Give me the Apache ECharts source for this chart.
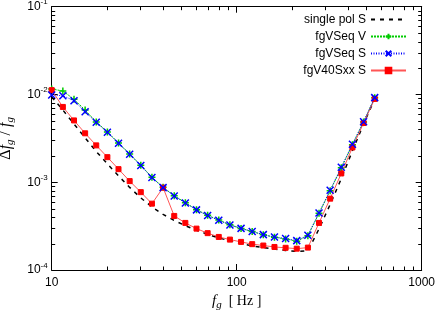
<!DOCTYPE html>
<html>
<head>
<meta charset="utf-8">
<script src="https://cdn.jsdelivr.net/npm/echarts@6/dist/echarts.min.js"></script>
<style>html,body{margin:0;padding:0;background:#fff}#c{width:436px;height:311px}</style>
</head>
<body>
<div id="c"></div>
<script>
// frequencies (Hz)
var freq = [10, 11.49, 13.20, 15.16, 17.41, 20, 22.97, 26.39, 30.31, 34.82, 40, 45.95, 52.78, 60.63, 69.64, 80, 91.90, 105.56, 121.26, 139.29, 160, 183.79, 211.12, 242.51, 278.58, 320, 367.58, 422.24, 485.03, 557.15];
var singlePolS = [0.00938, 0.00665, 0.00461, 0.00320, 0.00224, 0.00162, 0.00118, 0.000873, 0.000663, 0.000524, 0.000430, 0.000367, 0.000320, 0.000283, 0.000255, 0.000232, 0.000215, 0.000200, 0.000188, 0.000180, 0.000173, 0.000167, 0.000163, 0.000165, 0.000294, 0.000558, 0.00110, 0.00228, 0.00461, 0.00890];
var fgVSeqV = [0.01155, 0.01096, 0.00881, 0.00665, 0.00487, 0.00374, 0.00280, 0.00210, 0.00156, 0.00114, 0.000875, 0.000703, 0.000585, 0.000487, 0.000420, 0.000371, 0.000327, 0.000298, 0.000274, 0.000252, 0.000236, 0.000226, 0.000213, 0.000246, 0.000442, 0.000802, 0.00146, 0.00268, 0.00486, 0.00915];
var fgVSeqS = [0.00986, 0.00968, 0.00849, 0.00637, 0.00482, 0.00371, 0.00278, 0.00208, 0.00155, 0.00113, 0.000868, 0.000698, 0.000581, 0.000484, 0.000417, 0.000369, 0.000326, 0.000298, 0.000275, 0.000253, 0.000238, 0.000228, 0.000216, 0.000249, 0.000447, 0.000810, 0.00148, 0.00271, 0.00490, 0.00920];
var fgV40SxxS = [0.01120, 0.00721, 0.00506, 0.00361, 0.00263, 0.00193, 0.00141, 0.00103, 0.000771, 0.000570, 0.000868, 0.000413, 0.000344, 0.000296, 0.000263, 0.000238, 0.000222, 0.000209, 0.000197, 0.000190, 0.000183, 0.000179, 0.000175, 0.000180, 0.000344, 0.000650, 0.00126, 0.00249, 0.00473, 0.00890];
var seriesNames = ['single pol S', 'fgVSeq V', 'fgVSeq S', 'fgV40Sxx S'];
var xMinorTicks = [20, 30, 40, 50, 60, 70, 80, 90, 200, 300, 400, 500, 600, 700, 800, 900];
var yMinorTicks = [0.0002, 0.0003, 0.0004, 0.0005, 0.0006, 0.0007, 0.0008, 0.0009, 0.002, 0.003, 0.004, 0.005, 0.006, 0.007, 0.008, 0.009, 0.02, 0.03, 0.04, 0.05, 0.06, 0.07, 0.08, 0.09];

function pairs(ys) { return freq.map(function (f, i) { return [f, ys[i]]; }); }

var chart = echarts.init(document.getElementById('c'), null, {renderer: 'canvas'});
var sans = 'Liberation Sans';
var serif = 'Liberation Serif';
var XMIN = 10, XMAX = 1000, YMIN = 1e-4, YMAX = 1e-1;

var crossPath = 'path://M0,0L10,10M10,0L0,10';
var plusPath = 'path://M5,0L5,10M0,5L10,5';

var option = {
  animation: false,
  backgroundColor: '#fff',
  grid: {left: 51.7, right: 14.3, top: 6.7, bottom: 41, containLabel: false, outerBoundsMode: 'none'},
  legend: {
    orient: 'vertical', right: 29, top: 13.5, align: 'right',
    itemWidth: 35, itemHeight: 7, itemGap: 5, padding: 0,
    data: [{name: seriesNames[0], itemStyle: {opacity: 0}}, seriesNames[1], seriesNames[2], seriesNames[3]],
    textStyle: {fontFamily: sans, fontSize: 12, color: '#000', padding: [0, 0, 0, 0]}
  },
  xAxis: [{
    type: 'log', logBase: 10, min: XMIN, max: XMAX, position: 'bottom',
    axisLine: {lineStyle: {color: '#000', width: 1}},
    axisTick: {inside: true, length: 6, lineStyle: {color: '#000'}},
    axisLabel: {fontFamily: sans, fontSize: 12, color: '#000', margin: 7, formatter: function (v) { return String(Math.round(v)); }},
    splitLine: {show: false},
    name: '{f|f}{s|g}{t|  [ Hz ]}', nameLocation: 'middle', nameGap: 21,
    nameTextStyle: {rich: {
      f: {fontFamily: serif, fontStyle: 'italic', fontSize: 15, color: '#000'},
      s: {fontFamily: serif, fontStyle: 'italic', fontSize: 11, color: '#000', padding: [8, 0, 0, 0]},
      t: {fontFamily: serif, fontSize: 14, color: '#000'}
    }}
  }, {
    type: 'log', logBase: 10, min: XMIN, max: XMAX, position: 'top',
    axisLine: {lineStyle: {color: '#000', width: 1}},
    axisTick: {inside: true, length: 6, lineStyle: {color: '#000'}},
    axisLabel: {show: false}, splitLine: {show: false}
  }],
  yAxis: [{
    type: 'log', logBase: 10, min: YMIN, max: YMAX, position: 'left',
    axisLine: {lineStyle: {color: '#000', width: 1}},
    axisTick: {inside: true, length: 6, lineStyle: {color: '#000'}},
    axisLabel: {
      margin: 4,
      formatter: function (v) { return '{b|10}{s|' + Math.round(Math.log10(v)) + '}'; },
      rich: {
        b: {fontFamily: sans, fontSize: 12, color: '#000'},
        s: {fontFamily: sans, fontSize: 8, color: '#000', padding: [0, 0, 9, 0]}
      }
    },
    splitLine: {show: false},
    name: '{d|Δ}{f|f}{s|g}{d| / }{f|f}{s|g}', nameLocation: 'middle', nameGap: 36, nameRotate: 90,
    nameTextStyle: {rich: {
      d: {fontFamily: serif, fontSize: 16, color: '#000'},
      f: {fontFamily: serif, fontStyle: 'italic', fontSize: 16, color: '#000'},
      s: {fontFamily: serif, fontStyle: 'italic', fontSize: 11, color: '#000', padding: [8, 0, 0, 0]}
    }}
  }, {
    type: 'log', logBase: 10, min: YMIN, max: YMAX, position: 'right',
    axisLine: {lineStyle: {color: '#000', width: 1}},
    axisTick: {inside: true, length: 6, lineStyle: {color: '#000'}},
    axisLabel: {show: false}, splitLine: {show: false}
  }],
  series: [
    {name: seriesNames[0], type: 'line', data: pairs(singlePolS), symbol: 'none', z: 2,
      lineStyle: {color: '#000', width: 1.5, type: [4, 5]}, itemStyle: {color: '#000'}},
    {name: seriesNames[1], type: 'line', data: pairs(fgVSeqV), symbol: plusPath, symbolSize: 7, z: 3,
      lineStyle: {color: '#00cc00', width: 1, type: [2, 1]},
      itemStyle: {color: 'rgba(0,0,0,0)', borderColor: '#00cc00', borderWidth: 1.5}},
    {name: seriesNames[3], type: 'line', data: pairs(fgV40SxxS), symbol: 'rect', symbolSize: 5, z: 4,
      lineStyle: {color: '#ff5555', width: 1},
      itemStyle: {color: '#ff0000', borderColor: '#ff0000', borderWidth: 1}},
    {name: seriesNames[2], type: 'line', data: pairs(fgVSeqS), symbol: crossPath, symbolSize: 7, z: 5,
      lineStyle: {color: '#0000ff', width: 1, type: [1, 1.5]},
      itemStyle: {color: 'rgba(0,0,0,0)', borderColor: '#0000ff', borderWidth: 1.5}}
  ]
};
chart.setOption(option);

// minor ticks on all four sides, positioned through the axis scales
var g = [];
var st = {stroke: '#000', lineWidth: 1};
var finder = {xAxisIndex: 0, yAxisIndex: 0};
xMinorTicks.forEach(function (v) {
  var b = chart.convertToPixel(finder, [v, YMIN]);
  var t = chart.convertToPixel(finder, [v, YMAX]);
  var x = Math.round(b[0]) + 0.5;
  g.push({type: 'line', silent: true, z: 50, shape: {x1: x, y1: b[1], x2: x, y2: b[1] - 3.5}, style: st});
  g.push({type: 'line', silent: true, z: 50, shape: {x1: x, y1: t[1], x2: x, y2: t[1] + 3.5}, style: st});
});
yMinorTicks.forEach(function (v) {
  var l = chart.convertToPixel(finder, [XMIN, v]);
  var r = chart.convertToPixel(finder, [XMAX, v]);
  var y = Math.round(l[1]) + 0.5;
  g.push({type: 'line', silent: true, z: 50, shape: {x1: l[0], y1: y, x2: l[0] + 3.5, y2: y}, style: st});
  g.push({type: 'line', silent: true, z: 50, shape: {x1: r[0], y1: y, x2: r[0] - 3.5, y2: y}, style: st});
});
chart.setOption({graphic: {elements: g}});
</script>
</body>
</html>
